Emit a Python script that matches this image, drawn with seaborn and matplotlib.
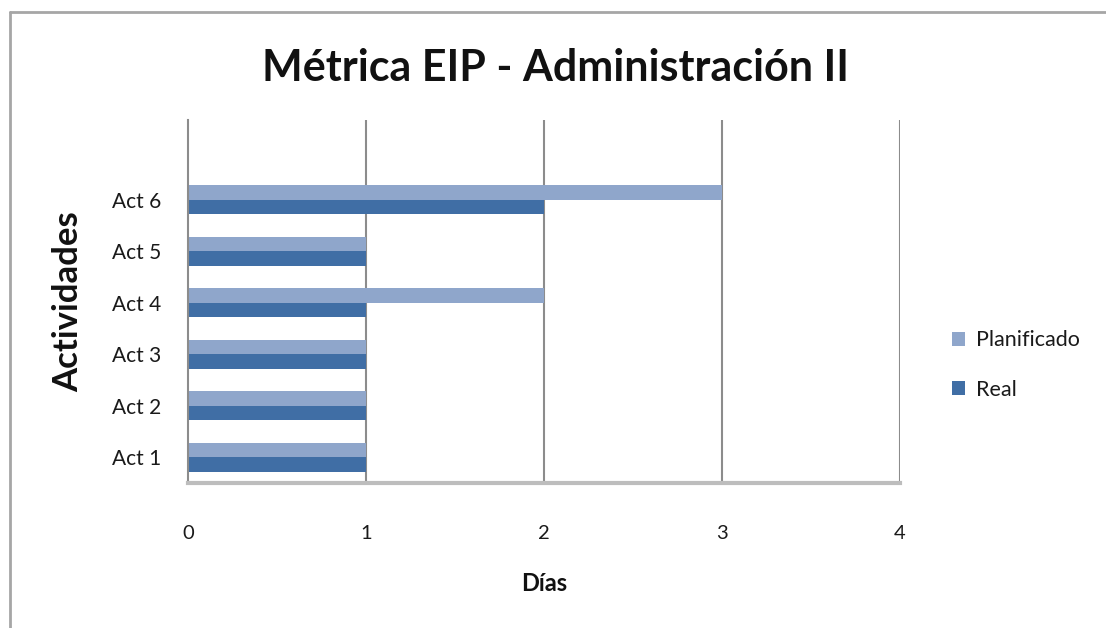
import matplotlib
matplotlib.use("Agg")
import matplotlib.pyplot as plt
from matplotlib.lines import Line2D
from matplotlib.patches import Patch
import seaborn as sns
import pandas as pd

# Activities, listed top to bottom as drawn
actividades = ["Act 6", "Act 5", "Act 4", "Act 3", "Act 2", "Act 1"]
planificado = [3, 1, 2, 1, 1, 1]
real = [2, 1, 1, 1, 1, 1]
series = ["Planificado", "Real"]
x_ticks = [0, 1, 2, 3, 4]

colores = {"Planificado": "#8FA6CB", "Real": "#406EA5"}

df = pd.DataFrame({
    "Actividad": actividades * 2,
    "Días": planificado + real,
    "Serie": [series[0]] * len(actividades) + [series[1]] * len(actividades),
})

sns.set_theme(style="white")
plt.rcParams["font.family"] = ["Lato", "DejaVu Sans"]

fig = plt.figure(figsize=(11.06, 6.28), dpi=100)
ax = fig.add_axes([188 / 1106, 1 - 483 / 628, (900 - 188) / 1106, (483 - 120) / 628])

sns.barplot(data=df, x="Días", y="Actividad", hue="Serie", order=actividades,
            hue_order=series, palette=colores, orient="h", width=0.56, gap=0,
            saturation=1, edgecolor="none", linewidth=0, ax=ax, legend=False)

ax.set_xlim(0, 4)
ax.set_ylim(5.5, -1.55)
ax.set_xticks(x_ticks)
ax.set_xticklabels([str(t) for t in x_ticks], fontsize=14.5, color="#1a1a1a")
ax.tick_params(axis="x", length=9, width=1.2, color="#9a9a9a", pad=21, direction="out")
ax.tick_params(axis="y", length=0, pad=19, labelsize=15, labelcolor="#1a1a1a")

# vertical gridlines
for t in x_ticks[1:]:
    ax.axvline(t, color="#8c8c8c", lw=1.5, zorder=0)

for s in ["top", "right"]:
    ax.spines[s].set_visible(False)
ax.spines["left"].set_color("#8c8c8c")
ax.spines["left"].set_linewidth(1.5)
ax.spines["bottom"].set_color("#bdbdbd")
ax.spines["bottom"].set_linewidth(3)

ax.set_xlabel("Días", fontsize=17, fontweight="bold", labelpad=22, color="#111111")
ax.set_ylabel("Actividades", fontsize=25, fontweight="bold", labelpad=20, color="#111111")

fig.text(555 / 1106, 1 - 68 / 628, "Métrica EIP - Administración II",
         ha="center", va="center", fontsize=31, fontweight="bold", color="#111111")

handles = [Patch(facecolor=colores[s], edgecolor="none") for s in series]
fig.legend(handles, series, loc="center left", bbox_to_anchor=(933 / 1106, 1 - 365 / 628),
           frameon=False, fontsize=15.5, handlelength=0.6, handleheight=0.6,
           handletextpad=0.5, labelspacing=1.35, labelcolor="#1a1a1a")

# chart frame on top and left edges
fig.add_artist(Line2D([10 / 1106, 1], [1 - 12 / 628, 1 - 12 / 628], color="#a6a6a6", lw=2,
                      transform=fig.transFigure))
fig.add_artist(Line2D([10 / 1106, 10 / 1106], [0, 1 - 12 / 628], color="#a6a6a6", lw=2,
                      transform=fig.transFigure))

fig.savefig("out.png", dpi=100, facecolor="white")
